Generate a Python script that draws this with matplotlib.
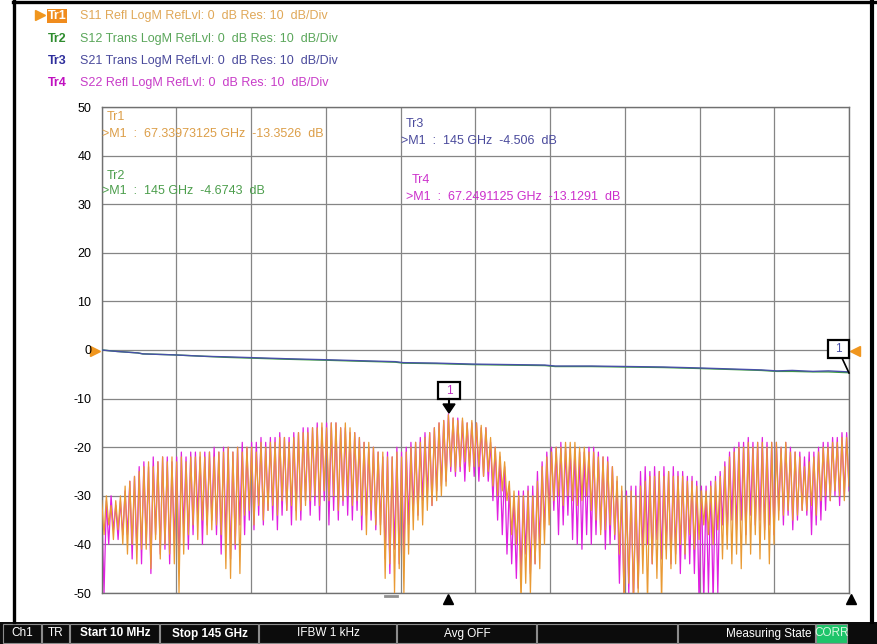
import matplotlib.pyplot as plt
import numpy as np
from matplotlib.patches import Rectangle, Polygon

plt.rcParams['font.family'] = ['Liberation Sans', 'DejaVu Sans']

# ---- data ----
f_start, f_stop = 0.01, 145.0          # GHz
y_ticks = [50, 40, 30, 20, 10, 0, -10, -20, -30, -40, -50]

header_names = ['Tr1', 'Tr2', 'Tr3', 'Tr4']
header_texts = ['S11 Refl LogM RefLvl: 0  dB Res: 10  dB/Div',
                'S12 Trans LogM RefLvl: 0  dB Res: 10  dB/Div',
                'S21 Trans LogM RefLvl: 0  dB Res: 10  dB/Div',
                'S22 Refl LogM RefLvl: 0  dB Res: 10  dB/Div']

# transmission traces (GHz, dB)
s21_f = [0.01, 3, 7, 8, 14, 20, 24, 30, 36, 43.5, 50, 57, 58.5, 65, 72, 79, 86, 88,
         95, 102, 109, 116, 122, 128, 131, 134, 138, 141, 145]
s21_db = [0, -0.3, -0.6, -0.8, -1.0, -1.3, -1.4, -1.6, -1.8, -2.0, -2.2, -2.4, -2.6,
          -2.7, -2.9, -3.0, -3.1, -3.3, -3.3, -3.4, -3.5, -3.7, -3.9, -4.1, -4.3,
          -4.2, -4.4, -4.3, -4.506]
s12_f = s21_f
s12_db = [0, -0.3, -0.6, -0.8, -1.0, -1.3, -1.5, -1.7, -1.9, -2.1, -2.3, -2.5, -2.7,
          -2.8, -3.0, -3.1, -3.2, -3.4, -3.4, -3.5, -3.6, -3.8, -4.0, -4.2, -4.4,
          -4.4, -4.5, -4.5, -4.6743]

# reflection traces: ripple crests and dips across the sweep
s11_top = [-31, -30, -32, -31, -30, -28, -27, -26, -25, -24, -23, -24, -23, -22, -23, -22,
           -23, -22, -23, -22, -22, -21, -22, -21, -22, -21, -21, -20, -21, -20, -21, -20,
           -20, -21, -19, -20, -19, -19, -18, -18, -19, -18, -17, -17, -17, -16, -16, -15,
           -16, -15, -15, -16, -15, -16, -17, -18, -19, -19, -20, -21, -21, -22, -22, -21,
           -22, -21, -20, -19, -19, -18, -17, -16, -15, -14.5, -13.35, -14, -14.5, -14, -15, -14.5,
           -15, -15.5, -16, -18, -20, -21, -23, -27, -29, -30, -30, -29, -30, -27, -24, -22,
           -21, -20, -20, -19, -19, -19, -20, -20, -21, -21, -22, -22, -23, -24, -26, -28,
           -30, -29, -30, -28, -27, -26, -26, -25, -26, -25, -26, -26, -26, -27, -27, -28,
           -29, -29, -28, -27, -26, -24, -22, -21, -20, -20, -19, -20, -19, -19, -20, -19,
           -19, -20, -19, -21, -21, -22, -24, -23, -22, -21, -20, -20, -19, -19, -18, -18]
s11_dip = [-38, -36, -39, -37, -40, -42, -40, -44, -41, -41, -45, -39, -43, -40, -42, -44,
           -50, -42, -38, -36, -39, -35, -38, -37, -36, -38, -45, -47, -40, -46, -34, -33,
           -36, -32, -35, -33, -32, -34, -31, -33, -32, -35, -33, -32, -31, -30, -32, -29,
           -31, -30, -33, -31, -30, -32, -31, -34, -38, -33, -36, -38, -47, -44, -50, -45,
           -50, -42, -37, -35, -36, -33, -32, -31, -30, -28, -24, -25, -24, -23, -25, -24,
           -24, -26, -25, -28, -30, -29, -31, -38, -40, -52, -48, -50, -44, -45, -40, -36,
           -31, -30, -32, -30, -31, -32, -31, -30, -33, -35, -38, -37, -36, -38, -42, -52,
           -48, -52, -50, -46, -52, -44, -47, -52, -43, -45, -44, -40, -42, -38, -41, -39,
           -36, -38, -40, -37, -43, -41, -44, -42, -45, -40, -42, -38, -43, -39, -44, -40,
           -35, -34, -33, -35, -34, -33, -33, -32, -34, -31, -30, -31, -29, -30, -31, -28]
s22_top = [-32, -31, -30, -32, -31, -29, -27, -26, -24, -23, -24, -22, -23, -22, -22, -23,
           -22, -21, -22, -21, -21, -22, -21, -21, -20, -21, -20, -20, -21, -20, -19, -20,
           -19, -19, -18, -19, -18, -18, -17, -18, -18, -17, -17, -16, -16, -16, -15, -16,
           -15, -15, -15, -16, -16, -17, -17, -18, -19, -20, -20, -21, -22, -21, -22, -20,
           -21, -20, -19, -19, -18, -17, -17, -16, -15, -14.5, -13.13, -14, -14, -14.5, -15, -15,
           -15, -16, -16, -19, -20, -22, -24, -28, -30, -29, -29, -28, -28, -25, -23, -21,
           -20, -20, -19, -20, -20, -20, -21, -21, -20, -20, -21, -22, -22, -24, -27, -29,
           -29, -28, -28, -25, -24, -25, -24, -25, -24, -25, -24, -25, -25, -26, -26, -27,
           -28, -28, -27, -26, -25, -23, -21, -20, -19, -19, -18, -19, -19, -18, -19, -19,
           -19, -20, -19, -20, -21, -21, -22, -21, -21, -20, -19, -19, -18, -18, -17, -17]
s22_dip = [-50, -40, -37, -39, -38, -38, -43, -41, -44, -40, -46, -38, -42, -41, -44, -40,
           -44, -37, -41, -38, -34, -40, -36, -35, -38, -42, -39, -43, -41, -36, -38, -35,
           -37, -34, -36, -33, -35, -37, -34, -33, -36, -33, -35, -31, -34, -32, -35, -31,
           -36, -33, -35, -32, -34, -35, -33, -37, -34, -35, -37, -36, -43, -46, -41, -44,
           -42, -36, -33, -34, -31, -30, -32, -29, -28, -27, -25, -26, -25, -27, -24, -26,
           -27, -26, -27, -31, -35, -38, -42, -44, -47, -46, -42, -46, -44, -40, -37, -33,
           -33, -38, -36, -34, -39, -40, -41, -38, -40, -38, -37, -41, -40, -39, -48, -52,
           -50, -52, -49, -42, -40, -44, -39, -43, -41, -44, -42, -46, -43, -44, -46, -52,
           -52, -50, -52, -50, -36, -38, -35, -37, -35, -38, -34, -36, -35, -37, -36, -38,
           -33, -36, -34, -37, -35, -33, -34, -38, -36, -35, -33, -31, -30, -32, -30, -29]

readouts = [('Tr1', '>M1  :  67.33973125 GHz  -13.3526  dB', '#dc9e48', 107, 117, 102, 134),
            ('Tr2', '>M1  :  145 GHz  -4.6743  dB', '#4c9e4c', 107, 176, 102, 191),
            ('Tr3', '>M1  :  145 GHz  -4.506  dB', '#4a4a9c', 406, 124, 401, 141),
            ('Tr4', '>M1  :  67.2491125 GHz  -13.1291  dB', '#cc30cc', 412, 180, 406, 197)]

status_cells = [(3, 42, 'Ch1', 'normal'), (42, 70, 'TR', 'normal'),
                (70, 160, 'Start 10 MHz', 'bold'), (160, 259, 'Stop 145 GHz', 'bold'),
                (259, 397, 'IFBW 1 kHz', 'normal'), (397, 537, 'Avg OFF', 'normal'),
                (537, 678, '', 'normal'), (678, 816, 'Measuring State', 'normal'),
                (816, 848, 'CORR', 'normal')]

c_s11 = '#e99a34'
c_s22 = '#e020e0'
c_s21 = '#4850a8'
c_s12 = '#3c9e3c'

# ---- figure ----
fig = plt.figure(figsize=(8.78, 6.44), dpi=100)
ov = fig.add_axes([0, 0, 1, 1], zorder=0)
ov.set_xlim(0, 878)
ov.set_ylim(644, 0)
ov.axis('off')

ax = fig.add_axes([101.7 / 878, 1 - 593 / 644, 747.3 / 878, 486 / 644], zorder=1)
ax.set_xlim(f_start, f_stop)
ax.set_ylim(-50, 50)
ax.set_yticks(y_ticks)
ax.set_yticklabels([str(v) for v in y_ticks], fontsize=9)
ax.set_xticks(np.linspace(f_start, f_stop, 11))
ax.set_xticklabels([])
ax.tick_params(length=0, pad=7.5)
ax.grid(True, color='#858585', lw=0.9)
ax.set_axisbelow(True)
for sp in ax.spines.values():
    sp.set_color('#707070')
    sp.set_linewidth(1)

# sweep: crests and dips alternate along evenly spaced points
n = len(s11_top)
sweep = np.linspace(f_start, f_stop, 2 * n)
s11 = np.empty(2 * n)
s11[0::2] = s11_top
s11[1::2] = s11_dip
s22 = np.empty(2 * n)
s22[0::2] = s22_top
s22[1::2] = s22_dip

ax.plot(sweep, s22, color=c_s22, lw=0.9, zorder=2)
ax.plot(sweep, s11, color=c_s11, lw=0.9, zorder=3)
ax.plot(s12_f, s12_db, color=c_s12, lw=1.0, zorder=4)
ax.plot(s21_f, s21_db, color=c_s21, lw=1.0, zorder=5)

T = ov.transData
# marker readouts
for name, txt, col, x1, y1, x2, y2 in readouts:
    ax.text(x1, y1, name, color=col, fontsize=9, va='center', transform=T, zorder=7)
    ax.text(x2, y2, txt, color=col, fontsize=9, va='center', transform=T, zorder=7)

# marker 1 on S11/S22 peak
ax.add_patch(Rectangle((438, 382), 22, 17, fc='white', ec='black', lw=1.6,
                       transform=T, zorder=8, clip_on=False))
ax.text(449, 390.5, '1', color='#c030c0', fontsize=8.5, ha='center', va='center',
        transform=T, zorder=9)
ax.plot([449, 449], [399, 406], color='black', lw=1.5, transform=T, zorder=8)
ax.add_patch(Polygon([(443, 404), (455, 404), (449, 413)], closed=True, fc='black',
                     ec='black', transform=T, zorder=8))
# marker 1 on S21/S12 end
ax.add_patch(Rectangle((828, 340), 21, 18, fc='white', ec='black', lw=1.6,
                       transform=T, zorder=8, clip_on=False))
ax.text(838.5, 349, '1', color='#4850a8', fontsize=8.5, ha='center', va='center',
        transform=T, zorder=9)
ax.plot([842, 849], [358, 373], color='black', lw=1.2, transform=T, zorder=8,
        clip_on=False)

# reference level arrows and stimulus markers
ov.plot(95.5, 351, marker='>', ms=7, color='#f0961e', mec='#f0961e')
ov.plot(855, 351, marker='<', ms=7, color='#f0961e', mec='#f0961e')
ov.plot(448, 598.5, marker='^', ms=7, color='black')
ov.plot(851, 598.5, marker='^', ms=7, color='black')
ov.plot([385, 397], [595.5, 595.5], color='#909090', lw=2)

# header lines
row_y = [16, 39, 61, 83]
name_cols = ['white', '#2e8c2e', '#2e2e9c', '#c010c0']
text_cols = ['#e0a858', '#5aa65a', '#4a4a9c', '#c83cc8']
ov.plot(40, 15, marker='>', ms=7, color='#f0961e', mec='#f0961e')
ov.add_patch(Rectangle((47, 9), 20, 14, fc='#f08c1e', ec='none'))
for i, (nm, tx) in enumerate(zip(header_names, header_texts)):
    if i == 0:
        ov.text(57, row_y[i], nm, color=name_cols[i], fontsize=9, fontweight='bold',
                ha='center', va='center')
    else:
        ov.text(48, row_y[i], nm, color=name_cols[i], fontsize=9, fontweight='bold',
                va='center')
    ov.text(80, row_y[i], tx, color=text_cols[i], fontsize=9, va='center')

# screen frame
ov.plot([14.5, 14.5], [0, 622], color='black', lw=2.4)
ov.plot([13, 875], [1.5, 1.5], color='black', lw=2.4)
ov.plot([872.5, 872.5], [0, 622], color='black', lw=3)

# status bar
ov.add_patch(Rectangle((0, 622), 878, 22, fc='#0c0c0c', ec='none'))
for x0, x1, txt, wt in status_cells:
    fc = '#1ec46a' if txt == 'CORR' else '#0c0c0c'
    ov.add_patch(Rectangle((x0 + 0.5, 623.5), x1 - x0 - 1, 19, fc=fc, ec='#8c8c8c', lw=0.8))
    if not txt:
        continue
    col = '#d8f8e0' if txt == 'CORR' else 'white'
    if txt == 'Measuring State':
        ov.text(x1 - 4, 633.5, txt, color=col, fontsize=8.5, fontweight=wt,
                ha='right', va='center')
    else:
        ov.text((x0 + x1) / 2, 633.5, txt, color=col, fontsize=8.5, fontweight=wt,
                ha='center', va='center')

fig.savefig('out.png', dpi=100)
